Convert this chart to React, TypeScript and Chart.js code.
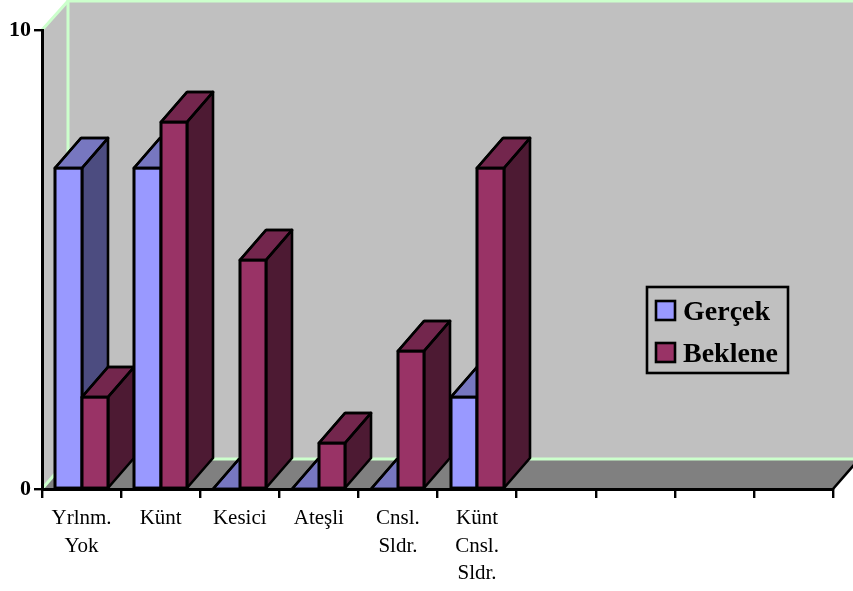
import React, { useEffect, useRef } from "react";
import { Chart, registerables } from "chart.js";

Chart.register(...registerables);

const categories: (string | string[])[] = [
  ["Yrlnm.", "Yok"],
  "Künt",
  "Kesici",
  "Ateşli",
  ["Cnsl.", "Sldr."],
  ["Künt", "Cnsl.", "Sldr."],
  "",
  "",
  "",
  "",
];
const gercek = [7, 7, 0, 0, 0, 2, null, null, null, null];
const beklene = [2, 8, 5, 1, 3, 7, null, null, null, null];
const seriesNames = ["Gerçek", "Beklene"];
const yTicks = [0, 10];

const FONT = '"Liberation Serif", "Times New Roman", serif';
const DEPTH_X = 26;
const DEPTH_Y = 30;
const WALL = "#C0C0C0";
const FLOOR = "#808080";
const EDGE = "#CCFFCC";
const INK = "#000000";
const LINE = 2.6;

// front, top and side shades for each series
const shades = [
  { front: "#9999FF", top: "#7777C0", side: "#4C4C80" },
  { front: "#993366", top: "#73264D", side: "#4D1A33" },
];

function poly(ctx: CanvasRenderingContext2D, pts: number[][], fill?: string, stroke?: string, lw = LINE) {
  ctx.beginPath();
  pts.forEach(([x, y], i) => (i ? ctx.lineTo(x, y) : ctx.moveTo(x, y)));
  if (fill) {
    ctx.closePath();
    ctx.fillStyle = fill;
    ctx.fill();
  }
  if (stroke) {
    ctx.strokeStyle = stroke;
    ctx.lineWidth = lw;
    ctx.lineJoin = "round";
    ctx.stroke();
  }
}

// Side walls, floor and their light edges, painted beneath the axes
const roomPlugin = {
  id: "room",
  beforeDraw(chart: any) {
    const { ctx, chartArea: a, width } = chart;
    const backX = a.left + DEPTH_X;
    const farX = a.right + DEPTH_X;
    const backTop = a.top - DEPTH_Y;
    const backBottom = a.bottom - DEPTH_Y;
    ctx.save();
    poly(ctx, [[a.left, a.bottom], [a.left, a.top], [backX, backTop], [width + 10, backTop], [width + 10, backBottom], [backX, backBottom]], WALL);
    poly(ctx, [[a.left, a.bottom], [backX, backBottom], [farX, backBottom], [a.right, a.bottom]], FLOOR);
    poly(ctx, [[a.left, a.top], [backX, backTop + 1], [width + 10, backTop + 1]], undefined, EDGE, 3);
    poly(ctx, [[backX, backTop], [backX, backBottom], [width + 10, backBottom]], undefined, EDGE, 3);
    poly(ctx, [[a.left, a.bottom], [backX, backBottom]], undefined, EDGE, 3);
    poly(ctx, [[a.right, a.bottom], [farX, backBottom]], undefined, INK, LINE);
    ctx.restore();
  },
};

// Extrudes every bar backwards, category by category so nearer faces cover farther ones
const extrudePlugin = {
  id: "extrude",
  afterDatasetsDraw(chart: any) {
    const { ctx } = chart;
    const metas = chart.data.datasets.map((_: unknown, i: number) => chart.getDatasetMeta(i));
    ctx.save();
    categories.forEach((_, index) => {
      metas.forEach((meta: any, d: number) => {
        const value = chart.data.datasets[d].data[index];
        if (value === null) return;
        const el = meta.data[index];
        const l = Math.round(el.x - el.width / 2);
        const r = Math.round(el.x + el.width / 2);
        const t = Math.round(el.y);
        const b = Math.round(el.base);
        const s = shades[d];
        if (value > 0) {
          poly(ctx, [[r, t], [r + DEPTH_X, t - DEPTH_Y], [r + DEPTH_X, b - DEPTH_Y], [r, b]], s.side, INK);
          poly(ctx, [[l, b], [l, t], [r, t], [r, b]], s.front, INK);
          ctx.closePath();
          ctx.stroke();
        }
        poly(ctx, [[l, t], [l + DEPTH_X, t - DEPTH_Y], [r + DEPTH_X, t - DEPTH_Y], [r, t]], s.top, INK);
        ctx.closePath();
        ctx.stroke();
      });
    });
    ctx.restore();
  },
};

// Boxed key placed on the back wall
const keyPlugin = {
  id: "key",
  afterDraw(chart: any) {
    const { ctx } = chart;
    ctx.save();
    ctx.strokeStyle = INK;
    ctx.lineWidth = LINE;
    ctx.strokeRect(647, 287, 141, 86);
    ctx.font = `bold 28px ${FONT}`;
    ctx.textBaseline = "alphabetic";
    seriesNames.forEach((name, i) => {
      const y = 301 + i * 42;
      ctx.fillStyle = shades[i].front;
      ctx.fillRect(656, y, 19, 19);
      ctx.strokeRect(656, y, 19, 19);
      ctx.fillStyle = INK;
      ctx.fillText(name, 683, y + 19);
    });
    ctx.restore();
  },
};

export default function App() {
  const ref = useRef<HTMLCanvasElement>(null);

  useEffect(() => {
    const chart = new Chart(ref.current!, {
      type: "bar",
      data: {
        labels: categories as any,
        datasets: [
          { label: seriesNames[0], data: gercek, backgroundColor: shades[0].front, borderColor: INK, borderWidth: 0 },
          { label: seriesNames[1], data: beklene, backgroundColor: shades[1].front, borderColor: INK, borderWidth: 0 },
        ],
      },
      options: {
        responsive: false,
        animation: false,
        devicePixelRatio: 1,
        layout: { padding: { top: 30, right: 20, left: 0, bottom: 0 } },
        datasets: { bar: { categoryPercentage: 0.67, barPercentage: 1 } },
        plugins: { legend: { display: false }, tooltip: { enabled: false }, title: { display: false } },
        scales: {
          x: {
            afterFit(scale: any) {
              scale.height = 102;
            },
            grid: { drawOnChartArea: false, drawTicks: true, tickLength: 9, color: INK, lineWidth: 2.4, offset: true },
            border: { color: INK, width: 3 },
            ticks: {
              autoSkip: false,
              maxRotation: 0,
              minRotation: 0,
              color: INK,
              padding: 7,
              font: { family: FONT, size: 21, lineHeight: 1.31 },
            },
          },
          y: {
            min: yTicks[0],
            max: yTicks[1],
            afterFit(scale: any) {
              scale.width = 42;
            },
            afterBuildTicks(scale: any) {
              scale.ticks = yTicks.map((value) => ({ value }));
            },
            grid: { drawOnChartArea: false, drawTicks: true, tickLength: 8, color: INK, lineWidth: 2.4 },
            border: { color: INK, width: 3 },
            ticks: {
              color: INK,
              padding: 3,
              font: { family: FONT, size: 22, weight: "bold" },
            },
          },
        },
      } as any,
      plugins: [roomPlugin, extrudePlugin, keyPlugin],
    });
    return () => chart.destroy();
  }, []);

  return (
    <div style={{ position: "absolute", left: 0, top: 0, width: 853, height: 591, background: "#FFFFFF" }}>
      <canvas ref={ref} width={853} height={591} style={{ display: "block" }} />
    </div>
  );
}
